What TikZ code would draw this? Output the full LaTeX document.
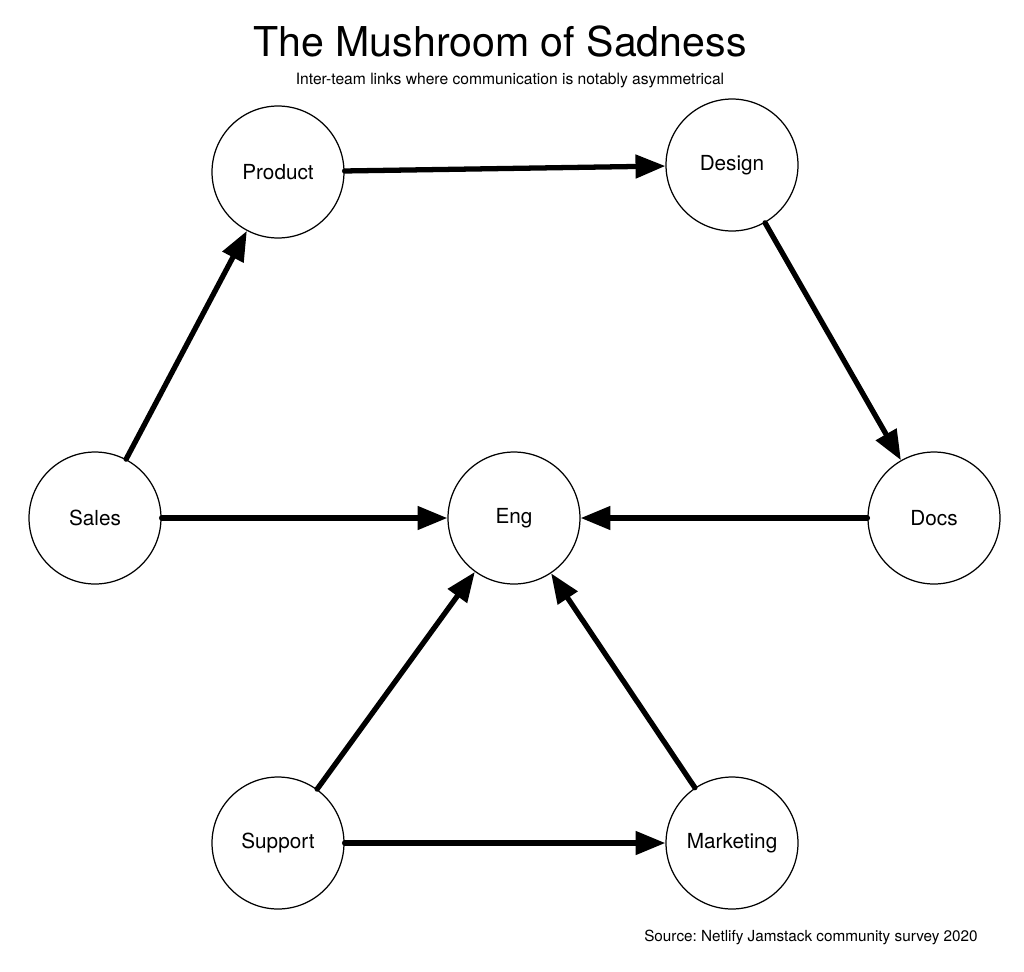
\documentclass[tikz,border=0pt]{standalone}
\usepackage{fontspec}
\setmainfont{TeX Gyre Heros}
\usetikzlibrary{arrows.meta}
\frenchspacing
\begin{document}
\begin{tikzpicture}[x=0.02cm,y=-0.02cm,
    team/.style={circle,draw,line width=0.7pt,minimum size=2.64cm,inner sep=0pt,font=\fontsize{11.8}{14}\selectfont},
    link/.style={line width=3pt,line cap=round,-{Triangle[length=17pt,width=13pt]}}]
    \useasboundingbox (0,0) rectangle (1024,971);
    \node at (500,42) {\fontsize{23.4}{28}\selectfont The Mushroom of Sadness};
    \node at (510,80) {\fontsize{8.9}{11}\selectfont Inter-team links where communication is notably asymmetrical};
    \node at (811,937) {\fontsize{8.7}{11}\selectfont Source: Netlify Jamstack community survey 2020};
    \node[team] (product) at (278,172) {Product};
    \node[team] (design) at (732,165) {Design};
    \node[team] (sales) at (95,518) {Sales};
    \node[team] (eng) at (514,518) {Eng};
    \node[team] (docs) at (934,518) {Docs};
    \node[team] (support) at (278,843) {Support};
    \node[team] (marketing) at (732,843) {Marketing};
    \draw[link] (sales) -- (product);
    \draw[link] (product) -- (design);
    \draw[link] (design) -- (docs);
    \draw[link] (sales) -- (eng);
    \draw[link] (docs) -- (eng);
    \draw[link] (support) -- (eng);
    \draw[link] (marketing) -- (eng);
    \draw[link] (support) -- (marketing);
\end{tikzpicture}
\end{document}
